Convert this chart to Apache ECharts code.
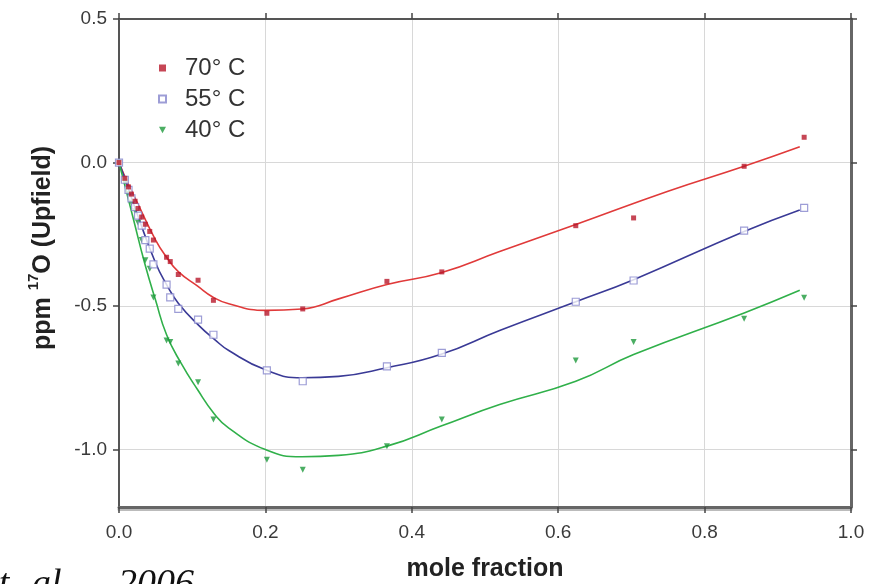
<!DOCTYPE html>
<html><head><meta charset="utf-8">
<script src="https://cdn.jsdelivr.net/npm/echarts@6/dist/echarts.min.js"></script>
<style>html,body{margin:0;padding:0;background:#fff}#c{width:884px;height:584px}</style>
</head><body><div id="c"></div>
<script>
// measured points (mole fraction, ppm)
const xPts = [0, 0.008, 0.013, 0.017, 0.022, 0.026, 0.031, 0.036, 0.042, 0.047, 0.065, 0.070, 0.081, 0.108, 0.129, 0.202, 0.251, 0.366, 0.441, 0.624, 0.703, 0.854, 0.936];
const y70 = [0, -0.055, -0.085, -0.11, -0.135, -0.16, -0.19, -0.215, -0.24, -0.27, -0.33, -0.345, -0.39, -0.41, -0.48, -0.525, -0.51, -0.414, -0.381, -0.22, -0.193, -0.013, 0.088];
const y55 = [0, -0.06, -0.095, -0.125, -0.155, -0.185, -0.22, -0.27, -0.3, -0.355, -0.425, -0.47, -0.51, -0.547, -0.6, -0.724, -0.762, -0.71, -0.663, -0.485, -0.411, -0.237, -0.158];
const y40 = [0, -0.07, -0.11, -0.14, -0.17, -0.21, -0.27, -0.34, -0.37, -0.47, -0.62, -0.625, -0.70, -0.765, -0.895, -1.035, -1.07, -0.988, -0.895, -0.69, -0.625, -0.544, -0.471];

// fitted curves
const fitX70 = [0, 0.01, 0.025, 0.05, 0.065, 0.081, 0.107, 0.129, 0.15, 0.2, 0.25, 0.3, 0.366, 0.44, 0.52, 0.624, 0.75, 0.854, 0.93];
const fitY70 = [0, -0.06, -0.14, -0.27, -0.33, -0.38, -0.43, -0.47, -0.492, -0.515, -0.51, -0.475, -0.425, -0.384, -0.31, -0.216, -0.10, -0.013, 0.055];
const fitX55 = [0, 0.01, 0.025, 0.05, 0.065, 0.081, 0.11, 0.13, 0.15, 0.2, 0.25, 0.3, 0.366, 0.44, 0.52, 0.624, 0.703, 0.854, 0.93];
const fitY55 = [0, -0.07, -0.18, -0.35, -0.425, -0.49, -0.57, -0.615, -0.655, -0.722, -0.75, -0.745, -0.715, -0.668, -0.585, -0.485, -0.408, -0.24, -0.165];
const fitX40 = [0, 0.01, 0.02, 0.035, 0.05, 0.065, 0.085, 0.107, 0.13, 0.15, 0.2, 0.25, 0.3, 0.366, 0.44, 0.52, 0.624, 0.703, 0.854, 0.93];
const fitY40 = [0, -0.1, -0.2, -0.35, -0.48, -0.6, -0.7, -0.79, -0.875, -0.925, -1.0, -1.025, -1.02, -0.988, -0.918, -0.843, -0.762, -0.669, -0.524, -0.445];

const names = ['70\u00b0 C', '55\u00b0 C', '40\u00b0 C'];
const yTicks = [-1.0, -0.5, 0.0, 0.5];

const zip = (a, b) => a.map((v, i) => [v, b[i]]);
const FONT = 'Liberation Sans, Arial, sans-serif';
const SERIF = 'italic 38px "Liberation Serif", "Times New Roman", serif';

const chart = echarts.init(document.getElementById('c'), null, {renderer: 'canvas'});
const baseX = {type: 'value', min: 0, max: 1, interval: 0.2, splitLine: {show: false}};
const baseY = {type: 'value', min: -1.2, max: 0.5, splitLine: {show: false}};
chart.setOption({
  animation: false,
  backgroundColor: '#fff',
  grid: {left: 119, right: 33, top: 19, bottom: 77, containLabel: false, outerBoundsMode: 'none'},
  legend: {
    data: [
      {name: names[0]},
      {name: names[1]},
      {name: names[2], icon: 'path://M0,0L10,0L5,9Z'}
    ],
    orient: 'vertical', left: 153, top: 51,
    itemWidth: 7, itemHeight: 7, itemGap: 7,
    textStyle: {fontSize: 24, color: '#333', fontFamily: FONT, lineHeight: 23, padding: [0, 0, 0, 14]}
  },
  xAxis: [
    Object.assign({}, baseX, {
      position: 'bottom',
      name: 'mole fraction', nameLocation: 'middle', nameGap: 50,
      nameTextStyle: {fontSize: 25, fontWeight: 'bold', color: '#222', fontFamily: FONT},
      axisLine: {onZero: false, lineStyle: {color: '#666', width: 3, shadowColor: '#bbb', shadowOffsetY: 2}},
      axisTick: {show: true, inside: false, length: 6, lineStyle: {color: '#444', width: 1.5}},
      axisLabel: {margin: 16, fontSize: 19, color: '#3a3a3a', fontFamily: FONT, formatter: v => v.toFixed(1)},
      splitLine: {show: true, lineStyle: {color: '#d8d8d8', width: 1}}
    }),
    Object.assign({}, baseX, {
      position: 'top',
      axisLine: {onZero: false, lineStyle: {color: '#555', width: 2}},
      axisTick: {show: true, inside: false, length: 6, lineStyle: {color: '#444', width: 1.5}},
      axisLabel: {show: false}
    })
  ],
  yAxis: [
    Object.assign({}, baseY, {
      position: 'left',
      name: '{n|ppm }{s|17}{n|O (Upfield)}', nameLocation: 'middle', nameGap: 63, nameRotate: 90,
      nameTextStyle: {
        padding: [0, 0, 0, 30],
        rich: {
          n: {fontSize: 25, fontWeight: 'bold', color: '#222', fontFamily: FONT, lineHeight: 30, verticalAlign: 'bottom'},
          s: {fontSize: 15, fontWeight: 'bold', color: '#222', fontFamily: FONT, verticalAlign: 'top', lineHeight: 15}
        }
      },
      axisLine: {show: true, onZero: false, lineStyle: {color: '#555', width: 2}},
      axisTick: {show: true, inside: false, length: 6, customValues: yTicks, lineStyle: {color: '#444', width: 1.5}},
      axisLabel: {margin: 12, fontSize: 19, color: '#3a3a3a', fontFamily: FONT, customValues: yTicks, formatter: v => v.toFixed(1)},
      splitLine: {show: true, lineStyle: {color: '#d8d8d8', width: 1}}
    }),
    Object.assign({}, baseY, {
      position: 'right',
      axisLine: {show: true, onZero: false, lineStyle: {color: '#666', width: 3}},
      axisTick: {show: true, inside: false, length: 6, customValues: yTicks, lineStyle: {color: '#444', width: 1.5}},
      axisLabel: {show: false, customValues: yTicks}
    })
  ],
  series: [
    {name: 'fit70', type: 'line', data: zip(fitX70, fitY70), smooth: 0.5, showSymbol: false, lineStyle: {color: '#e03a3a', width: 1.6}, z: 2, silent: true},
    {name: 'fit55', type: 'line', data: zip(fitX55, fitY55), smooth: 0.5, showSymbol: false, lineStyle: {color: '#3a3a96', width: 1.6}, z: 2, silent: true},
    {name: 'fit40', type: 'line', data: zip(fitX40, fitY40), smooth: 0.5, showSymbol: false, lineStyle: {color: '#30b04a', width: 1.6}, z: 2, silent: true},
    {name: names[0], type: 'scatter', data: zip(xPts, y70), symbol: 'rect', symbolSize: 5, itemStyle: {color: '#b8182a'}, z: 5},
    {name: names[1], type: 'scatter', data: zip(xPts, y55), symbol: 'rect', symbolSize: 7, itemStyle: {color: '#fff', borderColor: '#8484cc', borderWidth: 1.2}, z: 4},
    {name: names[2], type: 'scatter', data: zip(xPts, y40), symbol: 'triangle', symbolRotate: 180, symbolSize: 6, itemStyle: {color: '#1e9a3c'}, z: 3}
  ],
  graphic: [
    {type: 'text', left: -18, top: 566, style: {text: 'et', font: SERIF, fill: '#111'}},
    {type: 'text', left: 32, top: 566, style: {text: 'al.,', font: SERIF, fill: '#111'}},
    {type: 'text', left: 118, top: 566, style: {text: '2006', font: SERIF, fill: '#111'}}
  ]
});
</script></body></html>
